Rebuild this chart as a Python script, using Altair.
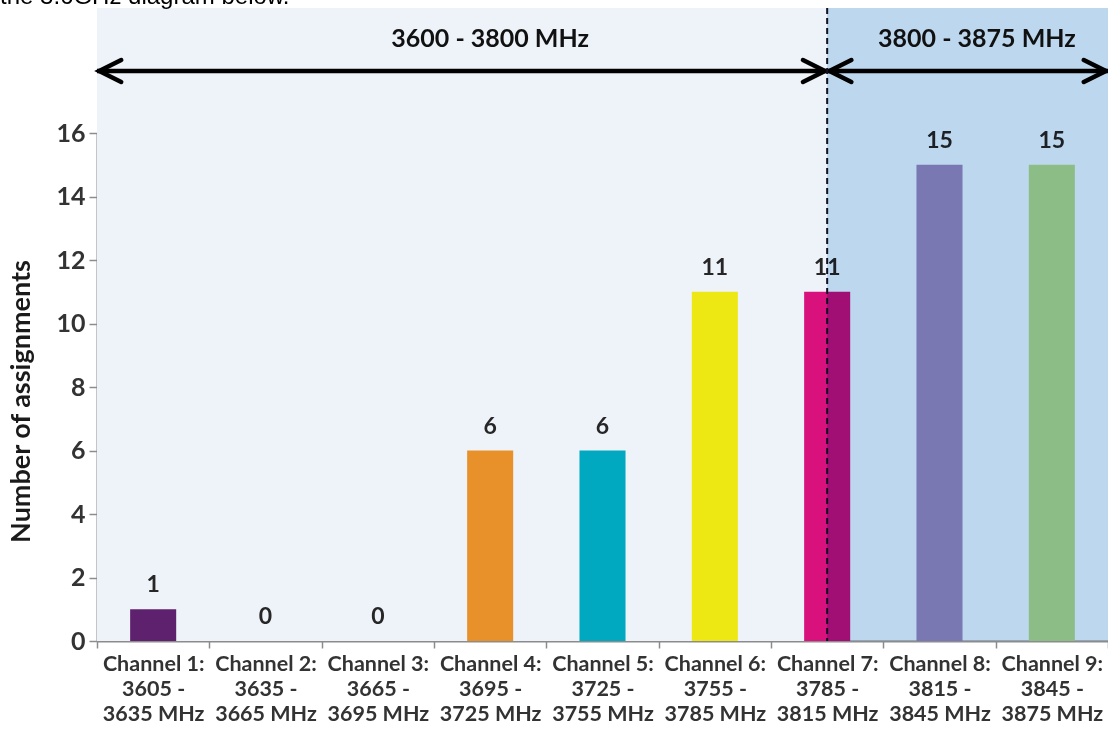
import altair as alt
import pandas as pd

# ---- data ----
channels = [
    "Channel 1:|3605 -|3635 MHz",
    "Channel 2:|3635 -|3665 MHz",
    "Channel 3:|3665 -|3695 MHz",
    "Channel 4:|3695 -|3725 MHz",
    "Channel 5:|3725 -|3755 MHz",
    "Channel 6:|3755 -|3785 MHz",
    "Channel 7:|3785 -|3815 MHz",
    "Channel 8:|3815 -|3845 MHz",
    "Channel 9:|3845 -|3875 MHz",
]
assignments = [1, 0, 0, 6, 6, 11, 11, 15, 15]
bar_colors = ["#5E216E", "#8064A2", "#4BACC6", "#E8912B", "#00A8C0",
              "#EDE813", "#D9117D", "#A58EBF", "#BEE191"]

range_labels = ["3600 - 3800 MHz", "3800 - 3875 MHz"]
range_start = [3605, 3800]
range_end = [3800, 3875]
range_label_at = [3710, 3840]
divider_freq = [3800]
top_note = ["the 3.6GHz diagram below."]

FONT = "Lato"
W, H = 1011, 508

df = pd.DataFrame({"channel": channels, "value": assignments})
ranges = pd.DataFrame({"label": range_labels, "start": range_start,
                       "end": range_end, "at": range_label_at})
left_panel = ranges.iloc[[0]]
right_panel = ranges.iloc[[1]]
divider = pd.DataFrame({"f": divider_freq})
note = pd.DataFrame({"t": top_note})

fscale = alt.Scale(domain=[3605, 3875], nice=False, zero=False)
cscale = alt.Scale(type="band", domain=channels, paddingInner=0, paddingOuter=0)
yscale = alt.Scale(domain=[0, 16], nice=False)

bg_left = alt.Chart(left_panel).mark_rect(color="#EEF3FA").encode(
    x=alt.X("start:Q", scale=fscale, axis=None),
    x2="end:Q",
    y=alt.value(-125), y2=alt.value(H),
)

bars = alt.Chart(df).mark_bar(width={"band": 0.41}).encode(
    x=alt.X("channel:N", scale=cscale, sort=channels, title=None,
            axis=alt.Axis(labelExpr="split(datum.label, '|')", labelAngle=0,
                          tickBand="extent", tickSize=7, tickColor="#8c8c8c",
                          tickWidth=1.5, domainColor="#8c8c8c", domainWidth=2,
                          labelFont=FONT, labelFontSize=21.5, labelFontWeight="bold",
                          labelColor="#333333", labelLineHeight=25,
                          labelPadding=5)),
    y=alt.Y("value:Q", scale=yscale,
            axis=alt.Axis(values=list(range(0, 17, 2)), grid=False, tickSize=8,
                          tickColor="#8c8c8c", tickWidth=1.5,
                          domainColor="#8c8c8c", domainWidth=2,
                          labelFont=FONT, labelFontSize=25, labelFontWeight="bold",
                          labelColor="#333333", labelPadding=4,
                          title="Number of assignments", titleFont=FONT,
                          titleFontSize=27, titleFontWeight="bold",
                          titleColor="#1a1a1a", titleX=-76, titleY=268,
                          titleBaseline="middle", titleAngle=270)),
    color=alt.Color("channel:N", scale=alt.Scale(domain=channels, range=bar_colors),
                    legend=None),
)

vlabels = alt.Chart(df).mark_text(font=FONT, fontSize=23, fontWeight="bold",
                                  color="#262626", baseline="alphabetic", dy=-17).encode(
    x=alt.X("channel:N", scale=cscale, sort=channels, axis=None),
    y=alt.Y("value:Q", scale=yscale),
    text="value:Q",
)

bg_right = alt.Chart(right_panel).mark_rect(color="#BDD7EE", blend="multiply").encode(
    x=alt.X("start:Q", scale=fscale, axis=None),
    x2="end:Q",
    y=alt.value(-125), y2=alt.value(H),
)

arrow_line = alt.Chart(ranges).mark_rule(color="#000000", strokeWidth=4.5).encode(
    x=alt.X("start:Q", scale=fscale, axis=None),
    x2="end:Q",
    y=alt.value(-62),
)
head_left = alt.Chart(ranges).mark_point(
    shape="M1.1,-0.5L0.1,0L1.1,0.5", size=1936, filled=False, strokeWidth=4.5,
    color="#000000", opacity=1, strokeCap="round").encode(
    x=alt.X("start:Q", scale=fscale, axis=None), y=alt.value(-62))
head_right = alt.Chart(ranges).mark_point(
    shape="M-1.1,-0.5L-0.1,0L-1.1,0.5", size=1936, filled=False, strokeWidth=4.5,
    color="#000000", opacity=1, strokeCap="round").encode(
    x=alt.X("end:Q", scale=fscale, axis=None), y=alt.value(-62))

range_text = alt.Chart(ranges).mark_text(font=FONT, fontSize=25, fontWeight="bold",
                                         color="#111111", baseline="middle").encode(
    x=alt.X("at:Q", scale=fscale, axis=None),
    y=alt.value(-94),
    text="label:N",
)

div_rule = alt.Chart(divider).mark_rule(color="#111122", strokeWidth=2,
                                        strokeDash=[6, 4]).encode(
    x=alt.X("f:Q", scale=fscale, axis=None),
    y=alt.value(-125), y2=alt.value(H),
)

note_text = alt.Chart(note).mark_text(font="Liberation Sans", fontSize=24,
                                      align="left", baseline="alphabetic",
                                      color="#000000").encode(
    x=alt.value(-97), y=alt.value(-129), text="t:N")

chart = alt.layer(
    bg_left, bars, vlabels, bg_right, arrow_line, head_left, head_right,
    range_text, div_rule, note_text
).resolve_scale(x="independent").properties(
    width=W, height=H,
    autosize=alt.AutoSizeParams(type="none"),
    padding={"left": 97, "top": 133, "right": 0, "bottom": 103},
    background="#ffffff",
).configure_view(stroke=None)

chart.save("out.html", embed_options={"renderer": "svg", "actions": False})
